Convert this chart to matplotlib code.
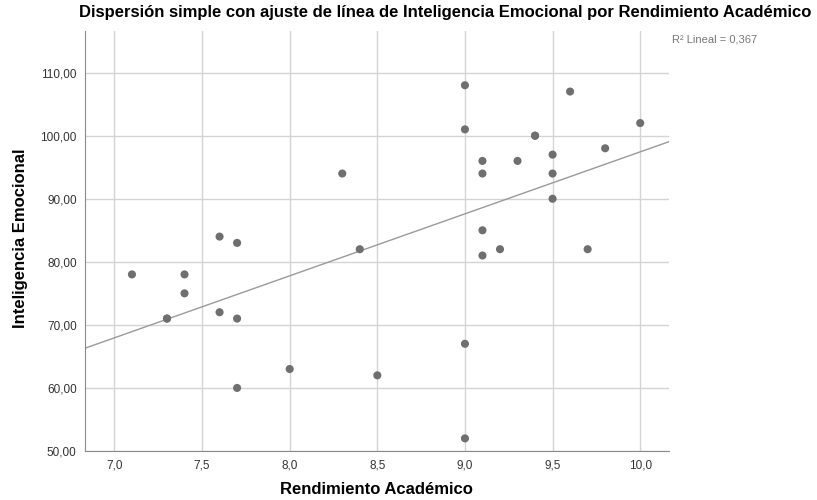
import numpy as np
import matplotlib
matplotlib.use('Agg')
import matplotlib.pyplot as plt
from matplotlib.ticker import FuncFormatter

# Rendimiento Academico (x) y Inteligencia Emocional (y)
rendimiento = [7.1, 7.3, 7.3, 7.4, 7.4, 7.6, 7.6, 7.7, 7.7, 7.7, 8.0, 8.3, 8.4, 8.5,
               9.0, 9.0, 9.0, 9.0, 9.1, 9.1, 9.1, 9.1, 9.2, 9.3, 9.4, 9.4,
               9.5, 9.5, 9.5, 9.6, 9.7, 9.8, 10.0]
inteligencia = [78, 71, 71, 78, 75, 84, 72, 83, 71, 60, 63, 94, 82, 62,
                108, 101, 67, 52, 96, 94, 85, 81, 82, 96, 100, 100,
                97, 94, 90, 107, 82, 98, 102]
r2_texto = "R² Lineal = 0,367"

plt.rcParams['font.family'] = ['Liberation Sans', 'DejaVu Sans']

fig = plt.figure(figsize=(8.17, 5), dpi=100)
ax = fig.add_axes([0.104, 0.098, 0.715, 0.84])

x = np.array(rendimiento)
y = np.array(inteligencia)
ax.scatter(x, y, s=34, color='#6f6f6f', edgecolors='none', zorder=3)

# linea de ajuste
m, b = np.polyfit(x, y, 1)
xlim = (6.832, 10.165)
xs = np.array(xlim)
ax.plot(xs, m * xs + b, color='#9a9a9a', linewidth=1, zorder=2)

ax.set_xlim(xlim)
ax.set_ylim(50, 116.6)
ax.set_xticks([7.0, 7.5, 8.0, 8.5, 9.0, 9.5, 10.0])
ax.set_yticks([50, 60, 70, 80, 90, 100, 110])
ax.xaxis.set_major_formatter(FuncFormatter(lambda v, p: f"{v:.1f}".replace('.', ',')))
ax.yaxis.set_major_formatter(FuncFormatter(lambda v, p: f"{v:.2f}".replace('.', ',')))
ax.tick_params(length=0, labelsize=8.5, labelcolor='#333333', pad=6)
ax.grid(True, color='#d4d4d4', linewidth=1)
ax.set_axisbelow(True)
for s in ['top', 'right']:
    ax.spines[s].set_visible(False)
for s in ['left', 'bottom']:
    ax.spines[s].set_color('#8a8a8a')

fig.text(0.545, 0.974, "Dispersión simple con ajuste de línea de Inteligencia Emocional por Rendimiento Académico",
         ha='center', va='center', fontsize=12, fontweight='bold')
fig.text(0.461, 0.02, "Rendimiento Académico", ha='center', va='center', fontsize=12, fontweight='bold')
fig.text(0.025, 0.524, "Inteligencia Emocional", ha='center', va='center', rotation=90,
         fontsize=12, fontweight='bold')
fig.text(0.823, 0.92, r2_texto, ha='left', va='center', fontsize=8, color='#777777')

fig.savefig('out.png', dpi=100)
